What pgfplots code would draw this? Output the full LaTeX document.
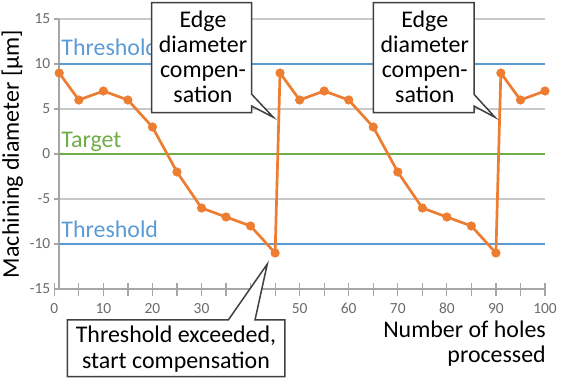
\documentclass[border=0pt]{standalone}
\usepackage{fontspec}
\setmainfont{Carlito}
\usepackage{pgfplots}
\pgfplotsset{compat=1.18}
\definecolor{cblue}{HTML}{5B9BD5}
\definecolor{cgreen}{HTML}{70AD47}
\definecolor{corange}{HTML}{ED7D31}
\definecolor{cgrid}{HTML}{C8C8C8}
\definecolor{caxis}{HTML}{A6A6A6}
\definecolor{ctick}{HTML}{6B6B6B}
\definecolor{cbox}{HTML}{404040}
\pgfplotstableread{
x y
1 9
5 6
10 7
15 6
20 3
25 -2
30 -6
35 -7
40 -8
45 -11
46 9
50 6
55 7
60 6
65 3
70 -2
75 -6
80 -7
85 -8
90 -11
91 9
95 6
100 7
}\diam
\begin{document}
\begin{tikzpicture}
\useasboundingbox (-54.3bp,-95bp) rectangle (521.7bp,289bp);
\begin{axis}[
  at={(0,0)}, anchor=south west,
  scale only axis, width=490.7bp, height=270bp,
  xmin=0, xmax=100, ymin=-15, ymax=15,
  axis line style={draw=none},
  xtick pos=bottom, ytick pos=left,
  xtick={0,10,...,100}, minor xtick={5,15,...,95},
  ytick={-15,-10,...,15},
  tick align=center,
  major tick length=13bp, minor tick length=13bp,
  xtick style={draw=caxis, line width=1.2bp},
  minor tick style={draw=caxis, line width=1.2bp},
  ytick style={draw=none},
  /pgf/number format/assume math mode=true,
  ticklabel style={font=\fontsize{15.5}{16}\selectfont, text=ctick},
  xticklabel style={yshift=-4bp},
  yticklabel style={xshift=6bp},
  clip=false,
]
% gridlines
\addplot[cgrid, line width=1.5bp] coordinates {(1,15) (100,15)};
\addplot[cgrid, line width=1.5bp] coordinates {(1,5) (100,5)};
\addplot[cgrid, line width=1.5bp] coordinates {(1,-5) (100,-5)};
% axis lines and y ticks
\addplot[caxis, line width=1.5bp] coordinates {(0,-15) (100,-15)};
\addplot[caxis, line width=1.5bp] coordinates {(1,-15) (1,15)};
\pgfplotsinvokeforeach{-15,-10,-5,0,5,10,15}{
  \draw[caxis, line width=1.2bp] (axis cs:1,#1) -- ([xshift=-5bp]axis cs:1,#1);
}
% thresholds and target
\addplot[cblue, line width=2.7bp] coordinates {(1,10) (100,10)};
\addplot[cblue, line width=2.7bp] coordinates {(1,-10) (100,-10)};
\addplot[cgreen, line width=2.7bp] coordinates {(1,0) (100,0)};
\node[anchor=base west, text=cblue, font=\fontsize{24}{26}\selectfont, inner sep=0pt] at (axis cs:1.4,11) {Threshold};
\node[anchor=base west, text=cgreen, font=\fontsize{24}{26}\selectfont, inner sep=0pt] at (axis cs:1.4,0.7) {Target};
\node[anchor=base west, text=cblue, font=\fontsize{24}{26}\selectfont, inner sep=0pt] at (axis cs:1.4,-9.25) {Threshold};
% data
\addplot[corange, line width=2.7bp, mark=*, mark size=4.3bp, mark options={solid, fill=corange, draw=corange, line width=0.5bp}] table[x=x, y=y] {\diam};
% callouts
\draw[cbox, fill=white, line width=1.5bp, line join=miter]
  (axis cs:19.85,16.81) -- (axis cs:40.23,16.81) -- (axis cs:40.23,6.63) -- (axis cs:44.63,4.08)
  -- (axis cs:40.23,5.33) -- (axis cs:40.23,4.59) -- (axis cs:19.85,4.59) -- cycle;
\node[anchor=base, align=center, font=\fontsize{24}{25.4}\selectfont, inner sep=0pt] at (axis cs:30.3,5.67) {Edge\\diameter\\compen-\\sation};
\draw[cbox, fill=white, line width=1.5bp, line join=miter]
  (axis cs:65.01,16.81) -- (axis cs:85.53,16.81) -- (axis cs:85.53,6.63) -- (axis cs:89.81,4.08)
  -- (axis cs:85.53,5.33) -- (axis cs:85.53,4.59) -- (axis cs:65.01,4.59) -- cycle;
\node[anchor=base, align=center, font=\fontsize{24}{25.4}\selectfont, inner sep=0pt] at (axis cs:75.5,5.67) {Edge\\diameter\\compen-\\sation};
\draw[cbox, fill=white, line width=1.5bp, line join=miter]
  (axis cs:2.65,-18.44) -- (axis cs:35.46,-18.44) -- (axis cs:43.41,-12.22) -- (axis cs:40.9,-18.44)
  -- (axis cs:47.01,-18.44) -- (axis cs:47.01,-24.74) -- (axis cs:2.65,-24.74) -- cycle;
\node[anchor=base, align=center, font=\fontsize{24}{25.2}\selectfont, inner sep=0pt] at (axis cs:24.8,-23.78) {Threshold exceeded,\\start compensation};
% x label
\node[anchor=base east, align=right, font=\fontsize{24}{25.4}\selectfont, inner sep=0pt] at (axis cs:100.2,-23.22) {Number of holes\\processed};
\end{axis}
% y label
\node[rotate=90, anchor=base, font=\fontsize{24}{26}\selectfont, inner sep=0pt] at (-35.5bp,135bp) {Machining diameter [µm]};
\end{tikzpicture}
\end{document}
